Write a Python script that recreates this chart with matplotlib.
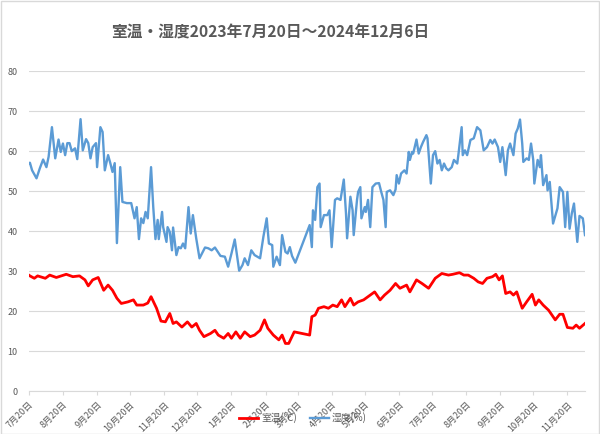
import datetime as dt
import matplotlib
matplotlib.use("Agg")
import matplotlib.pyplot as plt
import matplotlib.dates as mdates

plt.rcParams['font.family'] = ['Noto Sans CJK JP', 'DejaVu Sans']

start = dt.date(2023, 7, 20)
end = dt.date(2024, 12, 6)

# days counted from 2023-07-20
temp_days = [0, 1, 5, 8, 15, 19, 25, 34, 40, 46, 51, 54, 58, 63, 68, 72, 76, 80, 84, 90,
             95, 98, 104, 108, 111, 116, 120, 124, 128, 131, 134, 139, 144, 148, 152, 155,
             159, 165, 169, 172, 177, 181, 184, 188, 192, 196, 201, 205, 210, 214, 217,
             222, 227, 230, 233, 236, 241, 255, 257, 260, 263, 268, 272, 276, 280, 284,
             287, 292, 295, 299, 304, 308, 314, 319, 323, 328, 333, 337, 343, 346, 352,
             357, 363, 369, 375, 381, 385, 391, 395, 399, 404, 408, 412, 416, 421, 424,
             427, 430, 433, 437, 440, 443, 448, 452, 457, 460, 463, 467, 472, 478, 482,
             485, 489, 494, 497, 500, 505]
temp_vals = [29.0, 28.8, 28.2, 28.8, 28.2, 29.0, 28.4, 29.2, 28.6, 28.8, 27.8, 26.3, 27.8,
             28.4, 25.2, 26.5, 25.2, 23.2, 21.9, 22.3, 22.8, 21.5, 21.5, 22.0, 23.6, 20.7,
             17.5, 17.3, 19.4, 16.9, 17.3, 16.0, 17.3, 16.0, 16.9, 15.2, 13.6, 14.4, 15.2,
             14.0, 13.2, 14.4, 13.2, 14.8, 13.2, 14.8, 13.6, 14.0, 15.2, 17.8, 15.7, 14.0,
             12.8, 14.0, 11.9, 11.9, 14.8, 14.0, 18.6, 19.0, 20.7, 21.1, 20.7, 21.5, 21.1,
             22.8, 21.1, 23.2, 21.5, 22.3, 22.8, 23.6, 24.8, 22.8, 24.0, 25.2, 26.9, 25.7,
             26.5, 24.8, 27.8, 26.9, 25.7, 28.2, 29.4, 29.0, 29.2, 29.6, 29.0, 29.0, 28.2,
             27.3, 26.9, 28.2, 28.6, 29.2, 27.8, 28.8, 24.4, 24.8, 24.0, 24.8, 20.7, 22.3,
             24.2, 21.5, 22.8, 21.5, 20.2, 17.8, 19.2, 19.2, 15.9, 15.7, 16.5, 15.7, 16.9]

hum_days = [0, 1, 3, 7, 10, 13, 16, 18, 21, 24, 27, 29, 31, 33, 35, 37, 39, 42, 44, 47, 49,
            52, 54, 56, 58, 61, 62, 65, 67, 69, 72, 74, 76, 78, 80, 83, 85, 89, 93, 96, 98,
            100, 102, 104, 106, 108, 111, 113, 115, 117, 118, 121, 122, 125, 126, 128, 130,
            131, 134, 136, 138, 140, 142, 145, 147, 149, 152, 155, 160, 163, 166, 169, 174,
            178, 181, 184, 187, 191, 194, 196, 199, 202, 205, 210, 213, 216, 218, 221, 222,
            225, 228, 230, 233, 235, 237, 239, 242, 255, 257, 258, 260, 262, 264, 265, 268,
            271, 273, 275, 278, 280, 283, 286, 288, 289, 292, 294, 295, 298, 299, 301, 302,
            305, 306, 308, 310, 312, 315, 318, 320, 322, 324, 325, 328, 331, 333, 334, 336,
            338, 341, 343, 345, 346, 348, 349, 352, 354, 356, 358, 361, 362, 365, 367, 369,
            371, 373, 375, 377, 379, 381, 384, 386, 389, 390, 393, 394, 396, 398, 401, 404,
            407, 410, 413, 416, 419, 421, 423, 426, 428, 430, 433, 435, 437, 440, 442, 444,
            446, 448, 449, 452, 454, 456, 458, 459, 462, 464, 465, 467, 470, 471, 473, 476,
            480, 482, 485, 487, 489, 491, 493, 495, 498, 500, 503, 505]
hum_vals = [57.0, 57.1, 55.2, 53.2, 55.7, 57.9, 56.0, 58.6, 66.0, 58.2, 62.9, 59.8, 61.9,
            59.0, 62.0, 62.0, 60.0, 60.7, 58.0, 68.0, 60.2, 63.0, 62.0, 58.2, 61.0, 62.0,
            56.0, 66.0, 64.8, 55.2, 59.0, 57.0, 54.8, 57.0, 37.0, 56.0, 47.3, 47.0, 47.0,
            43.2, 46.0, 38.0, 43.2, 42.0, 44.8, 43.2, 56.0, 46.0, 38.0, 42.8, 38.0, 44.8,
            41.0, 37.3, 41.0, 39.8, 35.2, 40.9, 34.0, 36.0, 35.7, 36.9, 35.7, 46.0, 39.4,
            44.0, 38.2, 33.2, 35.9, 35.7, 35.2, 35.9, 33.8, 33.6, 31.1, 34.4, 37.9, 30.1,
            31.5, 33.2, 31.5, 35.2, 34.0, 33.2, 38.6, 43.2, 36.9, 36.5, 31.1, 33.6, 31.5,
            39.0, 34.8, 34.4, 36.0, 33.8, 32.1, 41.5, 36.0, 45.2, 42.8, 51.0, 51.9, 41.0,
            44.0, 44.0, 45.2, 36.0, 47.8, 48.2, 47.8, 52.9, 44.4, 38.2, 48.6, 45.2, 39.0,
            47.8, 49.8, 51.0, 43.2, 46.0, 44.8, 47.8, 41.0, 51.0, 51.9, 52.0, 49.8, 47.8,
            41.0, 49.8, 50.2, 49.0, 50.4, 54.0, 51.9, 54.4, 55.2, 54.4, 59.8, 57.8, 59.8,
            59.4, 62.9, 59.4, 61.0, 62.3, 64.0, 63.2, 51.9, 59.0, 60.0, 56.9, 57.8, 55.2,
            56.9, 55.7, 55.2, 56.0, 57.8, 56.9, 59.0, 66.0, 59.0, 60.2, 59.0, 62.8, 63.2,
            66.0, 65.2, 60.2, 61.0, 62.8, 61.9, 62.9, 61.0, 57.3, 61.0, 54.0, 60.2, 61.9,
            59.0, 64.4, 65.7, 67.9, 61.9, 57.3, 58.2, 57.8, 61.9, 57.8, 51.9, 57.8, 56.0,
            59.0, 51.5, 54.0, 50.2, 52.3, 41.9, 45.7, 51.0, 49.8, 41.0, 49.8, 40.6, 44.4,
            46.9, 37.3, 43.8, 43.2, 39.0]

temp_dates = [start + dt.timedelta(days=d) for d in temp_days]
hum_dates = [start + dt.timedelta(days=d) for d in hum_days]

fig = plt.figure(figsize=(6, 4.34), dpi=100)
ax = fig.add_axes([0.048, 0.099, 0.927, 0.737])

ax.plot(temp_dates, temp_vals, color='#FF0000', lw=2.0, label='室温(℃)', solid_joinstyle='round')
ax.plot(hum_dates, hum_vals, color='#5B9BD5', lw=1.7, label='湿度(%)', solid_joinstyle='round')

ax.set_ylim(0, 80)
ax.set_yticks(range(0, 81, 10))
ax.set_xlim(start, end)
ax.xaxis.set_major_locator(mdates.MonthLocator(bymonthday=20))
ax.xaxis.set_major_formatter(plt.FuncFormatter(
    lambda v, p: f"{mdates.num2date(v).month}月20日"))
plt.setp(ax.get_xticklabels(), rotation=45, ha='right', rotation_mode='anchor')

ax.grid(axis='y', color='#D9D9D9', lw=0.8)
ax.set_axisbelow(True)
for s in ['top', 'right', 'left']:
    ax.spines[s].set_visible(False)
ax.spines['bottom'].set_color('#D9D9D9')
ax.tick_params(axis='y', length=0, labelsize=6.5, labelcolor='#595959', pad=8)
ax.tick_params(axis='x', length=3, color='#D9D9D9', labelsize=6.5, labelcolor='#595959')

fig.text(0.45, 0.924, '室温・湿度2023年7月20日～2024年12月6日', ha='center', va='center',
         fontsize=11.3, fontweight='bold', color='#595959')

fig.legend(loc='lower center', ncol=2, frameon=False, fontsize=7, labelcolor='#595959',
           bbox_to_anchor=(0.505, 0.005), handlelength=2.0, columnspacing=1.3, handletextpad=0.3)

fig.patches.append(plt.Rectangle((0.001, 0.001), 0.997, 0.997, transform=fig.transFigure,
                                 fill=False, edgecolor='#D9D9D9', lw=1))

fig.savefig('out.png', dpi=100)
